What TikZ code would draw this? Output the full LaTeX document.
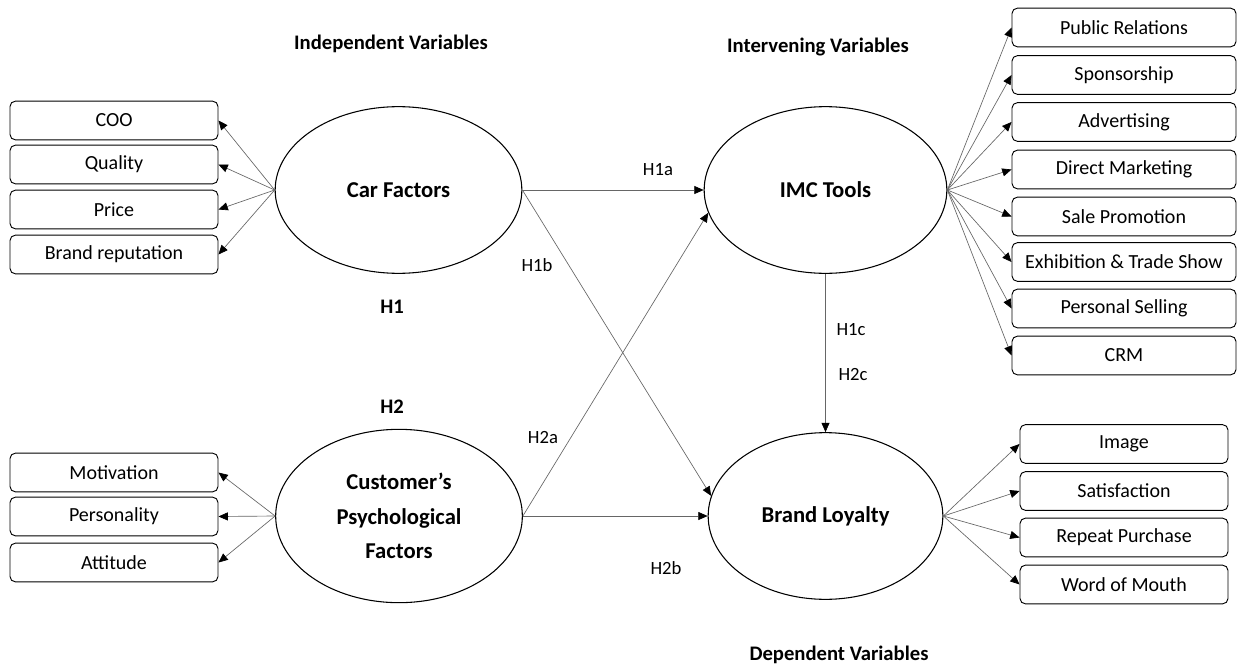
\documentclass[tikz,border=0pt]{standalone}
\usepackage{fontspec}
\setmainfont{Carlito}
\usetikzlibrary{arrows.meta,shapes.geometric}

\begin{document}
\begin{tikzpicture}[x=0.75pt,y=-0.75pt,
  factor/.style={draw,ellipse,line width=0.8pt,minimum width=185pt,minimum height=125pt,inner sep=0pt,align=center,font=\fontsize{17}{26}\selectfont\bfseries},
  item/.style={draw,line width=0.7pt,rounded corners=4pt,minimum width=156pt,minimum height=29pt,inner sep=0pt,font=\fontsize{15}{18}\selectfont},
  link/.style={draw=black!60,line width=0.5pt,-{Triangle[length=7pt,width=6pt,color=black]}},
  hyp/.style={font=\fontsize{14}{16}\selectfont},
  head/.style={font=\fontsize{15.5}{18}\selectfont\bfseries}]
  \useasboundingbox (0,0) rectangle (1237,667);

  % latent variables
  \node[factor] (car) at (398.5,190) {Car Factors};
  \node[factor,minimum width=182pt] (imc) at (825.5,190) {IMC Tools};
  \node[factor,minimum height=130pt] (psy) at (399,516) {Customer’s\\Psychological\\Factors};
  \node[factor,minimum width=176pt] (loyal) at (825.5,516) {Brand Loyalty};

  % indicators
  \foreach \t/\y [count=\i] in {COO/120.5,Quality/164.5,Price/209.5,Brand reputation/254.5}
    \node[item] (car\i) at (114,\y) {\t};
  \foreach \t/\y [count=\i] in {Motivation/472.5,Personality/516.5,Attitude/562.5}
    \node[item] (psy\i) at (114,\y) {\t};
  \foreach \t/\y [count=\i] in {Public Relations/27.5,Sponsorship/75,Advertising/122,Direct Marketing/169.5,Sale Promotion/216.5,Exhibition \& Trade Show/262,Personal Selling/308.5,CRM/355.5}
    \node[item,minimum width=168pt] (imc\i) at (1124,\y) {\t};
  \foreach \t/\y [count=\i] in {Image/444,Satisfaction/491,Repeat Purchase/537.5,Word of Mouth/584.5}
    \node[item] (loyal\i) at (1124,\y) {\t};

  \foreach \i in {1,...,4} \draw[link] (car.west) -- (car\i.east);
  \foreach \i in {1,...,3} \draw[link] (psy.west) -- (psy\i.east);
  \foreach \i in {1,...,8} \draw[link] (imc.east) -- (imc\i.west);
  \foreach \i in {1,...,4} \draw[link] (loyal.east) -- (loyal\i.west);

  % hypotheses
  \draw[link] (car.east) -- (imc.west);
  \draw[link] (car.east) -- (loyal.170);
  \draw[link] (psy.east) -- (imc.191);
  \draw[link] (psy.east) -- (loyal.west);
  \draw[link] (imc.south) -- (loyal.north);

  \node[hyp] (h1a) at (658,170) {H1a};
  \node[hyp] (h1b) at (537,265) {H1b};
  \node[hyp] (h2a) at (543,438) {H2a};
  \node[hyp] (h2b) at (666,568) {H2b};
  \node[hyp] (h1c) at (851,330) {H1c};
  \node[hyp] (h2c) at (853,375) {H2c};

  \node[head] (h1) at (392,307) {H1};
  \node[head] (h2) at (392,407) {H2};
  \node[head] (indep) at (391,44) {Independent Variables};
  \node[head] (inter) at (818,47) {Intervening Variables};
  \node[head] (dep) at (839,655) {Dependent Variables};
\end{tikzpicture}
\end{document}
